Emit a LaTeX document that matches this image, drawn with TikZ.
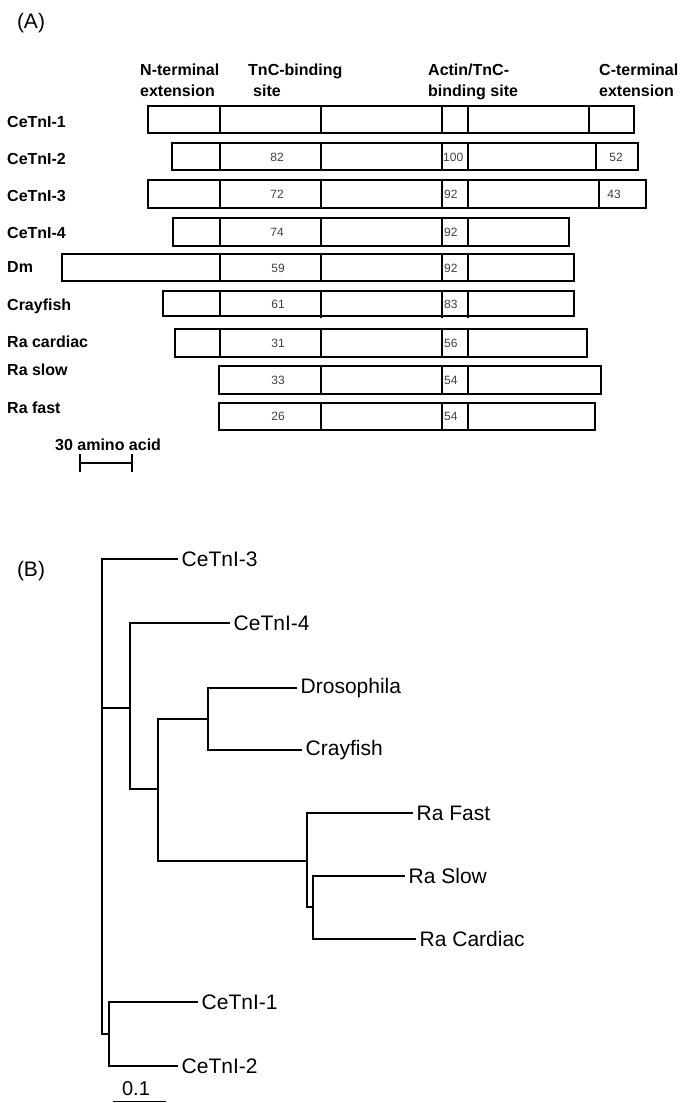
\documentclass[tikz,border=0pt]{standalone}
\usepackage{fontspec}
\setmainfont{Liberation Sans}
\begin{document}
\begin{tikzpicture}
    [x=1pt, y=-1pt,
     tag/.style={font=\fontsize{21}{24}\selectfont, inner sep=0pt},
     rowlabel/.style={anchor=base west, inner sep=0pt, font=\bfseries\fontsize{16}{18}\selectfont},
     num/.style={inner sep=0pt, text=black!75, font=\fontsize{12}{13}\selectfont},
     dombox/.style={line width=1.2pt},
     branch/.style={line width=1.2pt},
     leaf/.style={anchor=west, inner xsep=3.5pt, inner ysep=0pt, font=\fontsize{21}{24}\selectfont}]
    \useasboundingbox (0,0) rectangle (685,1103);

    % (A) domain structure
    \node[tag] (tagA) at (31,23) {(A)};
    \node[rowlabel] (h1a) at (140,75) {N-terminal};
    \node[rowlabel] (h1b) at (140,96) {extension};
    \node[rowlabel] (h2a) at (248,75) {TnC-binding};
    \node[rowlabel] (h2b) at (253,96) {site};
    \node[rowlabel] (h3a) at (428,75) {Actin/TnC-};
    \node[rowlabel] (h3b) at (428,96) {binding site};
    \node[rowlabel] (h4a) at (599,75) {C-terminal};
    \node[rowlabel] (h4b) at (599,96) {extension};

    % CeTnI-1
    \node[rowlabel] (r1) at (7,127.5) {CeTnI-1};
    \draw[dombox] (148,106) rectangle (634,133);
    \draw[dombox] (220,106) -- ++(0,27) (321,106) -- ++(0,27) (442,106) -- ++(0,27)
        (468,106) -- ++(0,27) (589,106) -- ++(0,27);

    % CeTnI-2
    \node[rowlabel] (r2) at (7,164.5) {CeTnI-2};
    \draw[dombox] (172,143) rectangle (638,170);
    \draw[dombox] (220,143) -- ++(0,27) (321,143) -- ++(0,27) (442,143) -- ++(0,27)
        (468,143) -- ++(0,27) (596,143) -- ++(0,27);
    \node[num] (n2a) at (277,157.5) {82};
    \node[num, anchor=west] (n2b) at (443,157.5) {100};
    \node[num] (n2c) at (616,157.5) {52};

    % CeTnI-3
    \node[rowlabel] (r3) at (7,201.5) {CeTnI-3};
    \draw[dombox] (148,180) rectangle (646,208);
    \draw[dombox] (220,180) -- ++(0,28) (321,180) -- ++(0,28) (442,180) -- ++(0,28)
        (468,180) -- ++(0,28) (599,180) -- ++(0,28);
    \node[num] (n3a) at (277,194.5) {72};
    \node[num, anchor=west] (n3b) at (444,194.5) {92};
    \node[num] (n3c) at (614,194.5) {43};

    % CeTnI-4
    \node[rowlabel] (r4) at (7,238.5) {CeTnI-4};
    \draw[dombox] (173,218) rectangle (569,246);
    \draw[dombox] (220,218) -- ++(0,28) (321,218) -- ++(0,28) (442,218) -- ++(0,28)
        (468,218) -- ++(0,28);
    \node[num] (n4a) at (277,232.5) {74};
    \node[num, anchor=west] (n4b) at (444,232.5) {92};

    % Dm
    \node[rowlabel] (r5) at (7,272.5) {Dm};
    \draw[dombox] (62,254) rectangle (574,281);
    \draw[dombox] (220,254) -- ++(0,27) (321,254) -- ++(0,27) (442,254) -- ++(0,27)
        (468,254) -- ++(0,27);
    \node[num] (n5a) at (278,268) {59};
    \node[num, anchor=west] (n5b) at (444,268) {92};

    % Crayfish
    \node[rowlabel] (r6) at (7,310.5) {Crayfish};
    \draw[dombox] (163,291) rectangle (574,316);
    \draw[dombox] (220,291) -- ++(0,25) (321,291) -- ++(0,27) (442,291) -- ++(0,27)
        (468,291) -- ++(0,27);
    \node[num] (n6a) at (278,304) {61};
    \node[num, anchor=west] (n6b) at (444,304) {83};

    % Ra cardiac
    \node[rowlabel] (r7) at (7,347.5) {Ra cardiac};
    \draw[dombox] (175,329) rectangle (587,357);
    \draw[dombox] (220,329) -- ++(0,28) (321,329) -- ++(0,28) (442,329) -- ++(0,28)
        (468,329) -- ++(0,28);
    \node[num] (n7a) at (278,343) {31};
    \node[num, anchor=west] (n7b) at (444,343) {56};

    % Ra slow
    \node[rowlabel] (r8) at (7,375.5) {Ra slow};
    \draw[dombox] (219,366) rectangle (601,394);
    \draw[dombox] (321,366) -- ++(0,28) (442,366) -- ++(0,28) (468,366) -- ++(0,28);
    \node[num] (n8a) at (278,380) {33};
    \node[num, anchor=west] (n8b) at (444,380) {54};

    % Ra fast
    \node[rowlabel] (r9) at (7,413.5) {Ra fast};
    \draw[dombox] (219,403) rectangle (595,430);
    \draw[dombox] (321,403) -- ++(0,27) (442,403) -- ++(0,27) (468,403) -- ++(0,27);
    \node[num] (n9a) at (278,416.5) {26};
    \node[num, anchor=west] (n9b) at (444,416.5) {54};

    % 30 amino acid scale
    \node[rowlabel] (aa) at (55,450) {30 amino acid};
    \draw[line width=1.2pt] (80,463) -- (132,463) (80,454) -- (80,472) (132,454) -- (132,472);

    % (B) tree
    \node[tag] (tagB) at (31,571.5) {(B)};

    \coordinate (root) at (102,708);
    \coordinate (a) at (130,708);
    \coordinate (b) at (158,789);
    \coordinate (c) at (208,719);
    \coordinate (d) at (307,861);
    \coordinate (e) at (313,907);
    \coordinate (f) at (109,1034);

    \node[leaf] (t3) at (178,559) {CeTnI-3};
    \node[leaf] (t4) at (230,623) {CeTnI-4};
    \node[leaf] (dros) at (297,688) {Drosophila};
    \node[leaf] (cray) at (302,750) {Crayfish};
    \node[leaf] (fast) at (413,813) {Ra Fast};
    \node[leaf] (slow) at (405,876) {Ra Slow};
    \node[leaf] (card) at (416,939) {Ra Cardiac};
    \node[leaf] (t1) at (198,1002) {CeTnI-1};
    \node[leaf] (t2) at (178,1066) {CeTnI-2};

    \draw[branch] (root) |- (t3);
    \draw[branch] (root) |- (a);
    \draw[branch] (root) |- (f);
    \draw[branch] (a) |- (t4);
    \draw[branch] (a) |- (b);
    \draw[branch] (b) |- (c);
    \draw[branch] (b) |- (d);
    \draw[branch] (c) |- (dros);
    \draw[branch] (c) |- (cray);
    \draw[branch] (d) |- (fast);
    \draw[branch] (d) |- (e);
    \draw[branch] (e) |- (slow);
    \draw[branch] (e) |- (card);
    \draw[branch] (f) |- (t1);
    \draw[branch] (f) |- (t2);

    % 0.1 scale
    \node[font=\fontsize{20}{22}\selectfont, inner sep=0pt] (sc) at (136,1089) {0.1};
    \draw[line width=1pt] (113,1101) -- (166,1101);
\end{tikzpicture}
\end{document}
